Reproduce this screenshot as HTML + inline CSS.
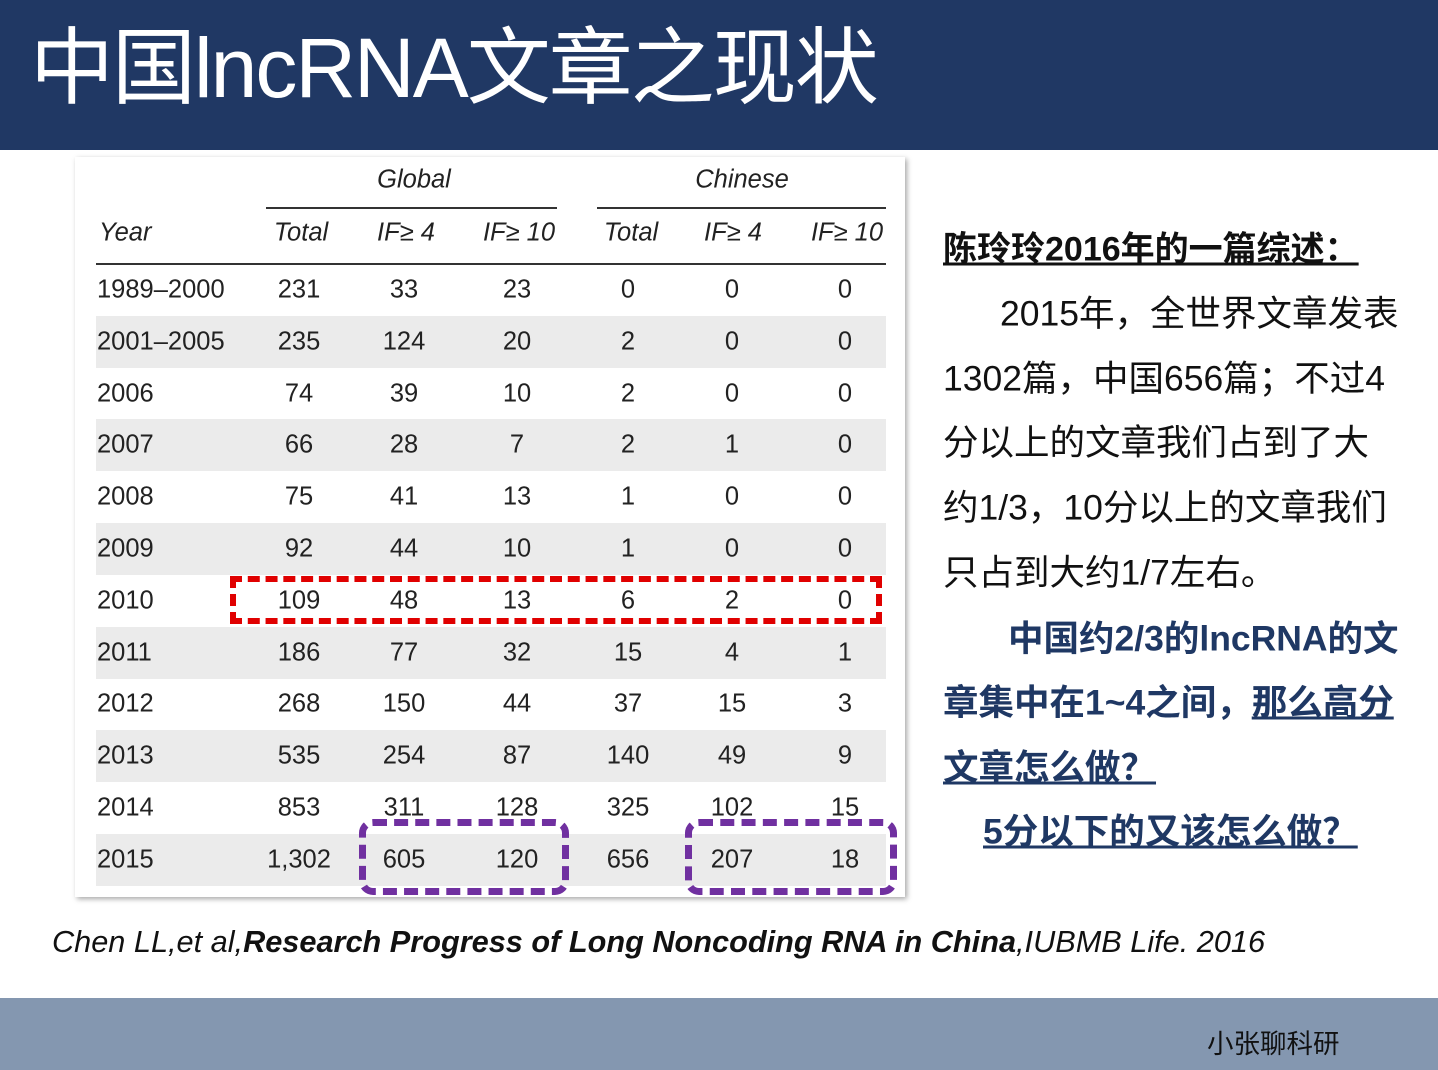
<!DOCTYPE html>
<html><head><meta charset="utf-8">
<style>
body{margin:0;width:1438px;height:1070px;position:relative;overflow:hidden;background:#fff;font-family:"Liberation Sans","Noto Sans CJK SC",sans-serif}
.abs{position:absolute}
#hdr{left:0;top:0;width:1438px;height:150px;background:#203864}
#title{left:30px;top:18px;color:#fff;font-size:84px;line-height:100px;white-space:nowrap;letter-spacing:-2px}
#panel{left:75px;top:157px;width:830px;height:740px;background:#fff;box-shadow:2px 2px 5px rgba(0,0,0,.35)}
.c{position:absolute;font-size:25.5px;color:#222;transform:translate(-50%,-50%);white-space:nowrap}
.l{position:absolute;font-size:25.5px;color:#222;transform:translateY(-50%);white-space:nowrap}
.it{font-style:italic}
.ln{position:absolute;height:2px;background:#333}
.gray{position:absolute;left:96px;width:790px;background:#ebebeb}
.rt{position:absolute;left:943px;font-size:35.5px;white-space:nowrap;color:#111;transform:translateY(-50%)}
.b{color:#1f3864;font-weight:bold}
#foot{left:0;top:998px;width:1438px;height:72px;background:#8497b0}
</style></head><body>
<div id="hdr" class="abs"></div>
<div id="title" class="abs">中国lncRNA文章之现状</div>
<div id="panel" class="abs"></div>
<div id="tbl"></div>
<div class="rt b" style="top:246px;color:#111;text-decoration:underline;font-size:34px">陈玲玲2016年的一篇综述：</div>
<div class="rt" style="top:311px;left:1000px">2015年，全世界文章发表</div>
<div class="rt" style="top:376px">1302篇，中国656篇；不过4</div>
<div class="rt" style="top:440px">分以上的文章我们占到了大</div>
<div class="rt" style="top:505px">约1/3，10分以上的文章我们</div>
<div class="rt" style="top:570px">只占到大约1/7左右。</div>
<div class="rt b" style="top:636px;left:1008px">中国约2/3的lncRNA的文</div>
<div class="rt b" style="top:700px">章集中在1~4之间，<u>那么高分</u></div>
<div class="rt b" style="top:765px;text-decoration:underline">文章怎么做？</div>
<div class="rt b" style="top:829px;left:983px;text-decoration:underline">5分以下的又该怎么做？</div>
<div class="abs it" style="left:52px;top:924px;font-size:30.7px;color:#111;white-space:nowrap">Chen LL,et al,<b>Research Progress of Long Noncoding RNA in China</b>,IUBMB Life. 2016</div>
<div id="foot" class="abs"></div>
<div class="abs" style="left:1207px;top:1022px;font-size:26.5px;color:#111">小张聊科研</div>
<script>
const years=["1989–2000","2001–2005","2006","2007","2008","2009","2010","2011","2012","2013","2014","2015"];
const globalTotal=["231","235","74","66","75","92","109","186","268","535","853","1,302"];
const globalIF4=["33","124","39","28","41","44","48","77","150","254","311","605"];
const globalIF10=["23","20","10","7","13","10","13","32","44","87","128","120"];
const chinaTotal=["0","2","2","2","1","1","6","15","37","140","325","656"];
const chinaIF4=["0","0","0","1","0","0","2","4","15","49","102","207"];
const chinaIF10=["0","0","0","0","0","0","0","1","3","9","15","18"];
const cols=[globalTotal,globalIF4,globalIF10,chinaTotal,chinaIF4,chinaIF10];
const colX=[299,404,517,628,732,845];
const rowY=i=>290+i*51.8;
const t=document.getElementById('tbl');
function add(html){t.insertAdjacentHTML('beforeend',html);return t.lastElementChild;}
years.forEach((y,i)=>{
 if(i%2==1){const g=add(`<div class="gray" style="top:${rowY(i)-26}px;height:52px"></div>`);
 
 }
});
years.forEach((y,i)=>{
 const e=add(`<div class="l" style="left:97px;top:${rowY(i)}px">${y}</div>`);
 
 
 cols.forEach((c,j)=>{
  const d=add(`<div class="c" style="left:${colX[j]}px;top:${rowY(i)}px">${c[i]}</div>`);
  
  
 });
});
const heads=[["Global",414,180],["Chinese",742,180],["Total",301,233],["IF≥ 4",406,233],["IF≥ 10",519,233],["Total",631,233],["IF≥ 4",733,233],["IF≥ 10",847,233]];
heads.forEach(h=>{const e=add(`<div class="c it" style="left:${h[1]}px;top:${h[2]}px">${h[0]}</div>`);
 
 });
let e=add(`<div class="l it" style="left:99px;top:233px">Year</div>`);


[[266,557,207],[597,886,207],[96,886,263]].forEach(a=>{const r=add(`<div class="ln" style="left:${a[0]}px;width:${a[1]-a[0]}px;top:${a[2]}px"></div>`);
 
 });
e=add(`<div class="abs" style="left:230px;top:576px;width:640px;height:36px;border:6px dashed #e00000"></div>`);


e=add(`<div class="abs" style="left:359px;top:819px;width:196px;height:62px;border:7px dashed #7030a0;border-radius:14px"></div>`);


e=add(`<div class="abs" style="left:685px;top:819px;width:198px;height:62px;border:7px dashed #7030a0;border-radius:14px"></div>`);


</script>
</body></html>
